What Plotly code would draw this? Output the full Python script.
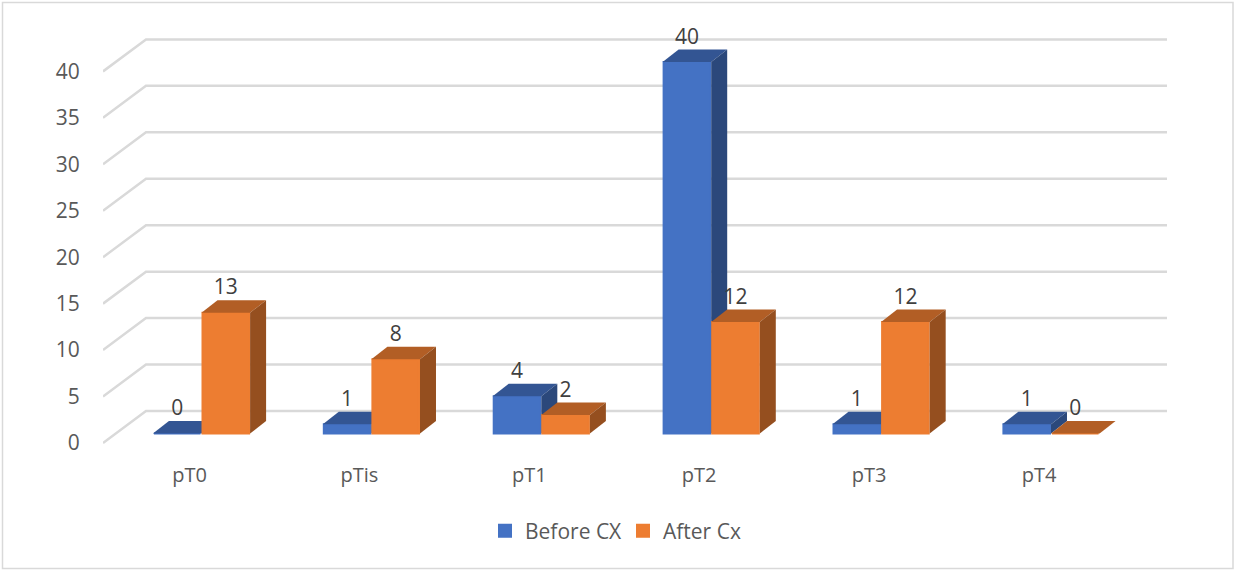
import plotly.graph_objects as go

categories = ["pT0", "pTis", "pT1", "pT2", "pT3", "pT4"]
before_cx = [0, 1, 4, 40, 1, 1]
after_cx = [13, 8, 2, 12, 12, 0]
y_ticks = [0, 5, 10, 15, 20, 25, 30, 35, 40]

W, H = 1234, 570
PX_X = 169.9      # pixels per category
PX_Y = 9.29       # pixels per unit
X0_PX = 201.5     # pixel of the first category's centre
Y0_PX = 433.5     # pixel of value zero at the bars' front
L, R, T, B = 103, 1170, 20, 450


def xd(px):
    return (px - X0_PX) / PX_X


def yd(px):
    return (Y0_PX - px) / PX_Y


BAR_W = 0.286
EDGE = 1 / PX_X
DX = 16 / PX_X
DY = 12.5 / PX_Y
WALL_FRONT_X, WALL_BACK_X, WALL_RIGHT_X = xd(103), xd(146), xd(1167)
WALL_FRONT_DY, WALL_BACK_DY = -9.5 / PX_Y, 22.5 / PX_Y
LABEL_SHIFT = -12 / PX_X
VALUE_LABEL_GAP = 11 / PX_Y

FONT = "Open Sans"
BLUE = ("#4472C4", "#335593", "#2B487B")
ORANGE = ("#ED7D31", "#B25E25", "#954F1F")

fig = go.Figure()

# walls and gridlines
gx, gy = [], []
for t in y_ticks:
    gx += [WALL_FRONT_X, WALL_BACK_X, WALL_RIGHT_X, None]
    gy += [t + WALL_FRONT_DY, t + WALL_BACK_DY, t + WALL_BACK_DY, None]
fig.add_trace(go.Scatter(x=gx, y=gy, mode="lines", showlegend=False, hoverinfo="skip",
                         line=dict(color="#D9D9D9", width=2.5)))


def add_series(name, values, offset, colors, ax):
    xa, ya = f"x{ax}", f"y{ax}"
    xs = list(range(len(values)))
    fig.add_trace(go.Bar(x=xs, y=values, width=BAR_W - 2 * EDGE, offset=offset + EDGE, name=name,
                         xaxis=xa, yaxis=ya,
                         marker=dict(color=colors[0], line=dict(width=2, color=colors[0]))))
    for i, v in enumerate(values):
        x0 = i + offset
        x1 = x0 + BAR_W
        # top face
        fig.add_trace(go.Scatter(
            x=[x0, x1, x1 + DX, x0 + DX, x0], y=[v, v, v + DY, v + DY, v],
            mode="lines", fill="toself", fillcolor=colors[1], line=dict(width=0),
            showlegend=False, hoverinfo="skip", xaxis=xa, yaxis=ya))
        # side face
        if v > 0:
            fig.add_trace(go.Scatter(
                x=[x1, x1 + DX, x1 + DX, x1, x1], y=[0, DY, v + DY, v, 0],
                mode="lines", fill="toself", fillcolor=colors[2], line=dict(width=0),
                showlegend=False, hoverinfo="skip", xaxis=xa, yaxis=ya))


add_series("Before CX", before_cx, -BAR_W, BLUE, 2)
add_series("After Cx", after_cx, 0, ORANGE, 3)

# value labels, on the top layer
for values, offset in ((before_cx, -BAR_W), (after_cx, 0)):
    fig.add_trace(go.Scatter(
        x=[i + offset + BAR_W / 2 for i in range(len(values))],
        y=[v + DY + VALUE_LABEL_GAP for v in values],
        text=[str(v) for v in values], mode="text", textposition="middle center",
        textfont=dict(family=FONT, size=21, color="#404040"),
        showlegend=False, hoverinfo="skip", xaxis="x3", yaxis="y3"))

x_range = [xd(L), xd(R)]
y_range = [yd(B), yd(T)]
dom_x = [L / W, R / W]
dom_y = [1 - B / H, 1 - T / H]

fig.update_layout(
    width=W, height=H, margin=dict(l=0, r=0, t=0, b=0, autoexpand=False),
    paper_bgcolor="white", plot_bgcolor="rgba(0,0,0,0)",
    barmode="overlay",
    font=dict(family=FONT, size=21, color="#595959"),
    xaxis=dict(domain=dom_x, range=x_range, showgrid=False, zeroline=False, showline=False,
               tickmode="array", tickvals=[i + LABEL_SHIFT for i in range(len(categories))],
               ticktext=categories, ticks="outside", ticklen=7, tickcolor="rgba(0,0,0,0)",
               tickfont=dict(family=FONT, size=20, color="#595959")),
    yaxis=dict(domain=dom_y, range=y_range, showgrid=False, zeroline=False, showline=False,
               tickmode="array", tickvals=[t + WALL_FRONT_DY for t in y_ticks],
               ticktext=[str(t) for t in y_ticks], ticks="outside", ticklen=18, tickcolor="rgba(0,0,0,0)",
               tickfont=dict(family=FONT, size=21, color="#595959")),
    xaxis2=dict(domain=dom_x, range=x_range, overlaying="x", visible=False),
    yaxis2=dict(domain=dom_y, range=y_range, overlaying="y", visible=False),
    xaxis3=dict(domain=dom_x, range=x_range, overlaying="x", visible=False),
    yaxis3=dict(domain=dom_y, range=y_range, overlaying="y", visible=False),
    legend=dict(orientation="h", x=485 / W, y=1 - 531 / H, xanchor="left", yanchor="middle",
                font=dict(family=FONT, size=21, color="#595959"), bgcolor="rgba(0,0,0,0)",
                itemwidth=30, entrywidth=93, entrywidthmode="pixels"),
    shapes=[dict(type="rect", xref="paper", yref="paper", x0=2.5 / W, x1=(W - 1) / W,
                 y0=1 - 568.5 / H, y1=1 - 2.5 / H, line=dict(color="#D9D9D9", width=1.5),
                 fillcolor="rgba(0,0,0,0)", layer="below")],
)

fig.write_html("out.html", config=dict(displayModeBar=False),
               post_script="document.body.style.margin='0';")
